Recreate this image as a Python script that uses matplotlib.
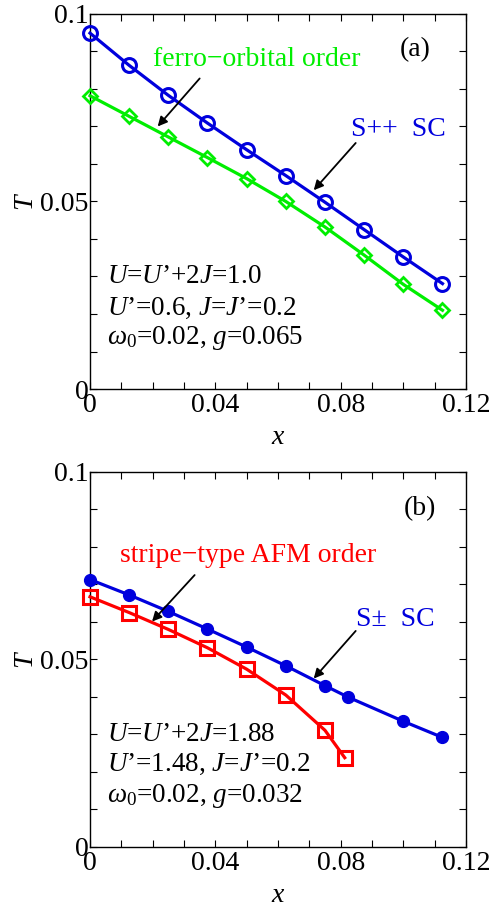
import matplotlib
matplotlib.use('Agg')
import matplotlib.pyplot as plt
from matplotlib.ticker import MultipleLocator

plt.rcParams['font.family'] = 'Liberation Serif'
plt.rcParams['mathtext.fontset'] = 'custom'
plt.rcParams['mathtext.rm'] = 'Liberation Serif'
plt.rcParams['mathtext.it'] = 'Liberation Serif:italic'

# panel (a)
xa = [0, 0.0125, 0.025, 0.0375, 0.05, 0.0625, 0.075, 0.0875, 0.1, 0.1125]
Ta_sc = [0.0949, 0.0863, 0.0783, 0.0709, 0.0638, 0.0569, 0.0498, 0.0425, 0.0352, 0.0281]
Ta_fo = [0.0782, 0.0727, 0.0672, 0.0617, 0.0561, 0.0500, 0.0432, 0.0357, 0.0279, 0.0210]

# panel (b)
xb_sc = [0, 0.0125, 0.025, 0.0375, 0.05, 0.0625, 0.075, 0.0825, 0.1, 0.1125]
Tb_sc = [0.0713, 0.0672, 0.0628, 0.0581, 0.0533, 0.0483, 0.0430, 0.0399, 0.0335, 0.0292]
xb_afm = [0, 0.0125, 0.025, 0.0375, 0.05, 0.0625, 0.075, 0.0813]
Tb_afm = [0.0667, 0.0625, 0.0580, 0.0531, 0.0474, 0.0405, 0.0311, 0.0238]

blue = '#0000dd'
green = '#00ee00'
red = '#ff0000'
fs = 20

fig = plt.figure(figsize=(4.95, 9.07), dpi=100)
ax1 = fig.add_axes([0.1818, 0.5711, 0.7596, 0.4135])
ax2 = fig.add_axes([0.1818, 0.0662, 0.7596, 0.4135])

arrow = dict(arrowstyle='-|>', color='black', lw=1.3, mutation_scale=14, shrinkA=0, shrinkB=0)


def style(ax):
    ax.set_xlim(0, 0.12)
    ax.set_ylim(0, 0.1)
    ax.xaxis.set_major_locator(MultipleLocator(0.04))
    ax.xaxis.set_minor_locator(MultipleLocator(0.01))
    ax.yaxis.set_major_locator(MultipleLocator(0.05))
    ax.yaxis.set_minor_locator(MultipleLocator(0.01))
    ax.set_xticklabels(['', '0', '0.04', '0.08', '0.12'])
    ax.set_yticklabels(['', '0', '0.05', '0.1'])
    ax.tick_params(which='both', direction='in', top=True, right=True,
                   length=5, width=0.8, labelsize=fs, pad=1)
    ax.tick_params(axis='x', pad=3)
    for s in ax.spines.values():
        s.set_linewidth(1.0)
    ax.set_xlabel(r'$x$', fontsize=fs, labelpad=5)
    ax.set_ylabel(r'$T$', fontsize=fs, labelpad=1)


ax1.plot(xa, Ta_sc, '-o', color=blue, lw=2.3, ms=10, mfc='none', mew=2.2, clip_on=False, zorder=3)
ax1.plot(xa, Ta_fo, '-D', color=green, lw=2.3, ms=7, mfc='none', mew=2, clip_on=False, zorder=3)
style(ax1)
ax1.text(0.1037, 0.0905, '(a)', fontsize=fs, ha='center', va='center')
ax1.text(0.020, 0.0878, 'ferro\u2212orbital order', color=green, fontsize=fs, va='center')
ax1.annotate('', xy=(0.0216, 0.0700), xytext=(0.035, 0.0828), arrowprops=arrow)
ax1.text(0.0834, 0.0693, 'S++  SC', color=blue, fontsize=fs, va='center')
ax1.annotate('', xy=(0.0714, 0.0530), xytext=(0.0848, 0.0656), arrowprops=arrow)
params_a = [r'$U$=$U$’+2$J$=1.0', r'$U$’=0.6, $J$=$J$’=0.2', r'$\omega_0$=0.02, $g$=0.065']
for yy, t in zip([0.0300, 0.0216, 0.0136], params_a):
    ax1.text(0.0053, yy, t, fontsize=fs - 0.5, va='center')

ax2.plot(xb_sc, Tb_sc, '-o', color=blue, lw=2.3, ms=8.5, clip_on=False, zorder=3)
ax2.plot(xb_afm, Tb_afm, '-s', color=red, lw=2.3, ms=10, mfc='none', mew=2.2, clip_on=False, zorder=3)
style(ax2)
ax2.text(0.1053, 0.0902, '(b)', fontsize=fs, ha='center', va='center')
ax2.text(0.0096, 0.0778, 'stripe\u2212type AFM order', color=red, fontsize=fs, va='center')
ax2.annotate('', xy=(0.0198, 0.0601), xytext=(0.0334, 0.0725), arrowprops=arrow)
ax2.text(0.0848, 0.0607, 'S\u00b1  SC', color=blue, fontsize=fs, va='center')
ax2.annotate('', xy=(0.0714, 0.0449), xytext=(0.0848, 0.0576), arrowprops=arrow)
params_b = [r'$U$=$U$’+2$J$=1.88', r'$U$’=1.48, $J$=$J$’=0.2', r'$\omega_0$=0.02, $g$=0.032']
for yy, t in zip([0.0299, 0.0219, 0.0135], params_b):
    ax2.text(0.0053, yy, t, fontsize=fs - 0.5, va='center')

fig.savefig('out.png', dpi=100)
